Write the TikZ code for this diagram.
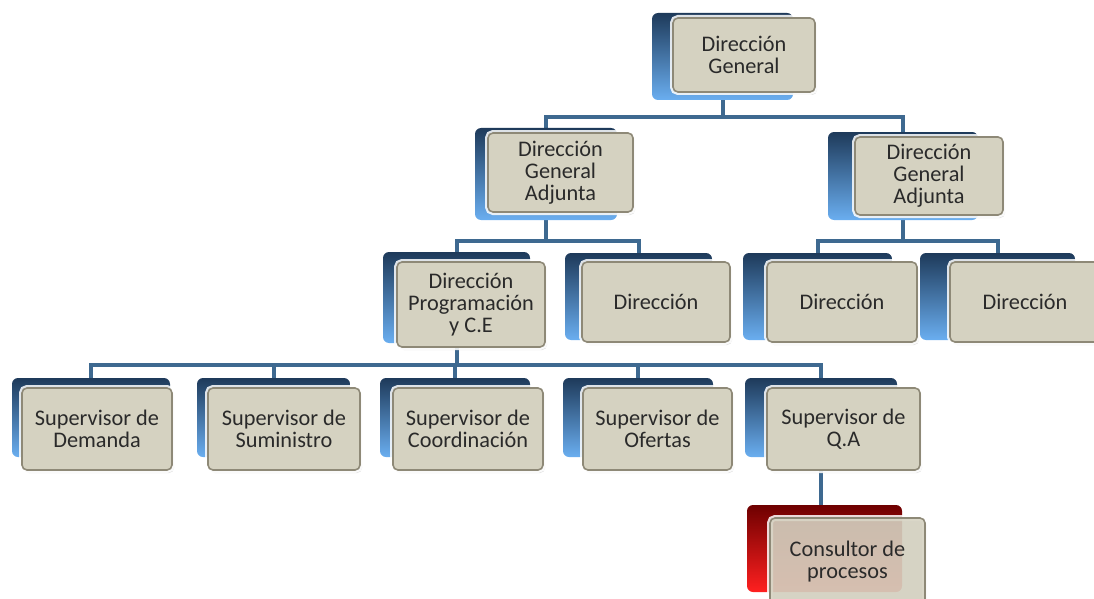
\documentclass[tikz,border=0pt]{standalone}
\usepackage{fontspec}
\setmainfont{Carlito}
\usetikzlibrary{shadows}
\pgfdeclarelayer{paper}
\pgfdeclarelayer{bg}
\pgfsetlayers{paper,bg,main}

\definecolor{navyedge}{HTML}{1E3A5A}
\definecolor{midblue}{HTML}{3F7AB5}
\definecolor{skyblue}{HTML}{6AAEF0}
\definecolor{darkred}{HTML}{6E0000}
\definecolor{midred}{HTML}{C00000}
\definecolor{brightred}{HTML}{FF2020}
\definecolor{beige}{HTML}{D5D2C1}
\definecolor{beigeedge}{HTML}{8E8977}
\definecolor{textgray}{HTML}{2A2A2A}
\definecolor{linkblue}{HTML}{3E6990}

\tikzset{
  backbox/.style={inner sep=0pt, outer sep=0pt, rounded corners=6pt, draw=none,
    top color=navyedge, middle color=midblue, bottom color=skyblue},
  redback/.style={inner sep=0pt, outer sep=0pt, rounded corners=6pt, draw=none,
    top color=darkred, middle color=midred, bottom color=brightred},
  frontbox/.style={inner sep=0pt, outer sep=0pt, rounded corners=5pt, fill=beige,
    draw=beigeedge, line width=1.6pt, text=textgray, align=center,
    font=\fontsize{22.3}{22}\selectfont,
    drop shadow={opacity=0.25, shadow xshift=2pt, shadow yshift=-3pt},
    preaction={draw=white, line width=6pt, draw opacity=0.85}},
  tinted/.style={fill opacity=0.88, text opacity=1},
  conn/.style={draw=linkblue, line width=4pt}
}

% box given as x1/y1/x2/y2 -> centre (\bx,\by) and size \bw x \bh
\def\parsebox#1/#2/#3/#4\relax{%
  \pgfmathsetmacro\bx{(#1+#3)/2}%
  \pgfmathsetmacro\by{(#2+#4)/2}%
  \pgfmathsetmacro\bw{#3-#1}%
  \pgfmathsetmacro\bh{#4-#2}%
}

% \orgunit[extra front style]{name}{back style}{back box}{front box}{text}
\newcommand\orgunit[6][]{%
  \parsebox#4\relax
  \node[#3, minimum width=\bw pt, minimum height=\bh pt] (#2-b) at (\bx,\by) {};
  \parsebox#5\relax
  \node[frontbox, #1, minimum width=\bw pt, minimum height=\bh pt] (#2) at (\bx,\by) {#6};
}

\begin{document}
\begin{tikzpicture}[x=1pt, y=-1pt]
  \begin{pgfonlayer}{paper}
    \fill[white] (0,0) rectangle (1094,599);
  \end{pgfonlayer}
  \useasboundingbox (0,0) rectangle (1094,599);

  % top level
  \orgunit{dg}{backbox}{652/13/793/100}{673/18/815/92}{Dirección\\General}

  % deputy directorates
  \orgunit{dga1}{backbox}{475/128/617/220}{488/133/633/212}{Dirección\\General\\Adjunta}
  \orgunit{dga2}{backbox}{828/132/978/220}{855/137/1003/215}{Dirección\\General\\Adjunta}

  % directorates
  \orgunit{dp}{backbox}{383/252/530/343}{397/262/545/347}{Dirección\\Programación\\y C.E}
  \orgunit{d2}{backbox}{565/253/712/340}{582/262/730/342}{Dirección}
  \orgunit{d3}{backbox}{743/253/892/340}{767/262/917/342}{Dirección}
  \orgunit{d4}{backbox}{920/253/1075/340}{950/262/1100/342}{Dirección}

  % supervisors
  \orgunit{s1}{backbox}{12/378/170/457}{22/388/172/470}{Supervisor de\\Demanda}
  \orgunit{s2}{backbox}{197/378/350/457}{208/388/360/470}{Supervisor de\\Suministro}
  \orgunit{s3}{backbox}{380/378/530/457}{393/388/543/470}{Supervisor de\\Coordinación}
  \orgunit{s4}{backbox}{563/378/713/457}{583/388/732/470}{Supervisor de\\Ofertas}
  \orgunit{s5}{backbox}{745/378/897/457}{767/388/920/470}{Supervisor de\\Q.A}

  % consultant
  \orgunit[tinted]{cp}{redback}{747/505/902/592}{770/518/925/605}{Consultor de\\procesos}

  % connectors, drawn underneath the boxes
  \begin{pgfonlayer}{bg}
    \draw[conn] (dg-b) -- (dg-b |- 0,117) -| (dga1-b);
    \draw[conn] (dg-b |- 0,117) -| (dga2-b);

    \draw[conn] (dga1-b) -- (dga1-b |- 0,241) -| (dp-b);
    \draw[conn] (dga1-b |- 0,241) -| (d2-b);
    \draw[conn] (dga2-b) -- (dga2-b |- 0,241) -| (d3-b);
    \draw[conn] (dga2-b |- 0,241) -| (d4-b);

    \draw[conn] (dp-b) -- (dp-b |- 0,365) -| (s1-b);
    \draw[conn] (dp-b |- 0,365) -| (s2-b);
    \draw[conn] (dp-b |- 0,365) -| (s3-b);
    \draw[conn] (dp-b |- 0,365) -| (s4-b);
    \draw[conn] (dp-b |- 0,365) -| (s5-b);

    \draw[conn] (s5-b) -- (s5-b |- cp-b);
  \end{pgfonlayer}
\end{tikzpicture}
\end{document}
